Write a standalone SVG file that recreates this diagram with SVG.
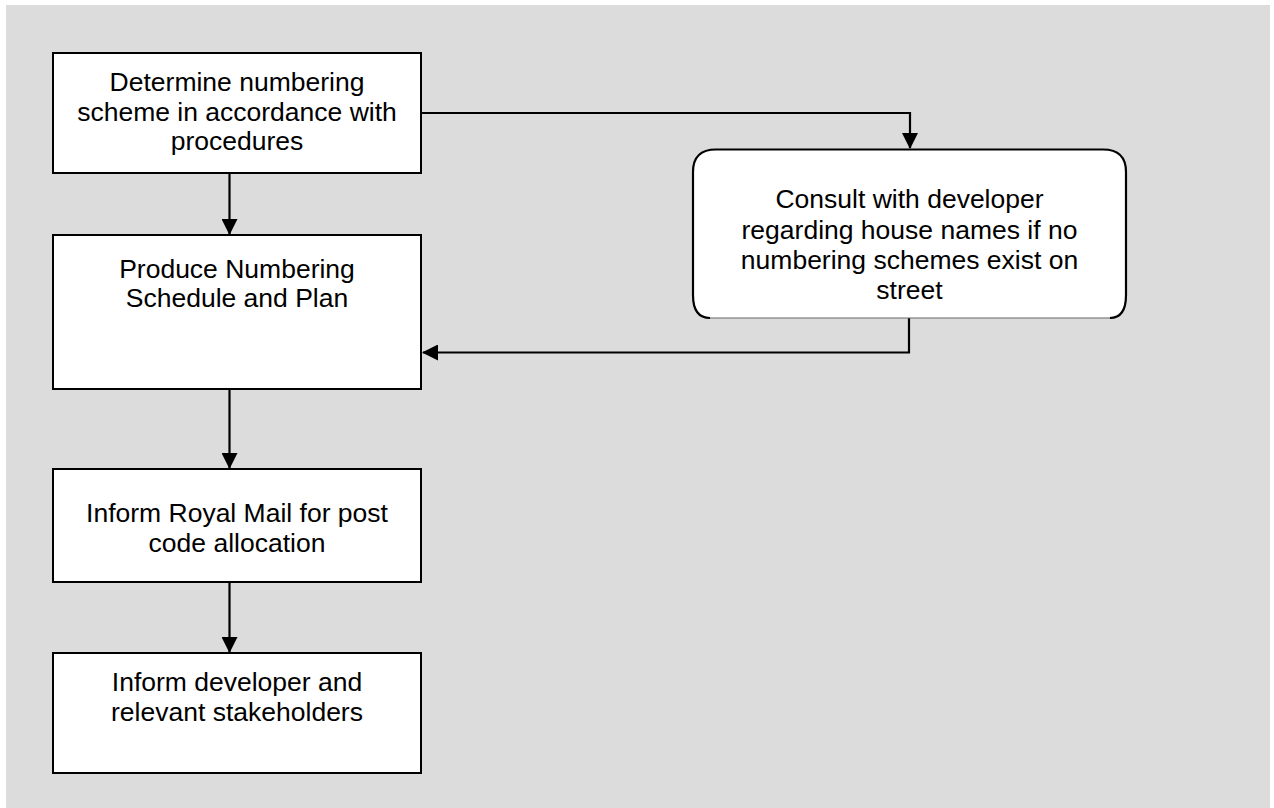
<svg xmlns="http://www.w3.org/2000/svg" width="1274" height="808" viewBox="0 0 1274 808">
<defs>
<style>
.box{fill:#fff;stroke:#000;stroke-width:2}
.t{font-family:"Liberation Sans",Arial,sans-serif;font-size:26.5px;fill:#000;text-anchor:middle}
.c{fill:none;stroke:#000;stroke-width:2.2}
</style>
<marker id="ah" viewBox="0 0 16 16" refX="15" refY="8" markerWidth="16" markerHeight="16" markerUnits="userSpaceOnUse" orient="auto">
<path d="M0,0 L16,8 L0,16 Z" fill="#000"/>
</marker>
</defs>
<rect x="0" y="0" width="1274" height="808" fill="#fff"/>
<rect x="6" y="5" width="1264" height="803" fill="#dcdcdc"/>
<g id="connectors">
<path class="c" d="M421,113 H910 V148" marker-end="url(#ah)"/>
<path class="c" d="M229.5,173 V234" marker-end="url(#ah)"/>
<path class="c" d="M909,318 V352.5 H423" marker-end="url(#ah)"/>
<path class="c" d="M229.5,389 V468" marker-end="url(#ah)"/>
<path class="c" d="M229.5,582 V652" marker-end="url(#ah)"/>
</g>
<g id="n1">
<rect class="box" x="53" y="53" width="368" height="120"/>
<text class="t" x="237" y="91">Determine numbering</text>
<text class="t" x="237" y="121">scheme in accordance with</text>
<text class="t" x="237" y="150">procedures</text>
</g>
<g id="n2">
<path d="M693,172 Q693,149.5 716,149.5 H1103 Q1126,149.5 1126,172 V295 Q1126,318 1103,318 H716 Q693,318 693,295 Z" fill="#fff"/>
<path d="M710,318 Q693,318 693,295 V172 Q693,149.5 716,149.5 H1103 Q1126,149.5 1126,172 V295 Q1126,318 1110,318" fill="none" stroke="#000" stroke-width="2.2"/>
<line x1="710" y1="318" x2="1110" y2="318" stroke="#666" stroke-width="1"/>
<text class="t" x="909.5" y="208">Consult with developer</text>
<text class="t" x="909.5" y="239">regarding house names if no</text>
<text class="t" x="909.5" y="269">numbering schemes exist on</text>
<text class="t" x="909.5" y="299">street</text>
</g>
<g id="n3">
<rect class="box" x="53" y="235" width="368" height="154"/>
<text class="t" x="237" y="278">Produce Numbering</text>
<text class="t" x="237" y="307">Schedule and Plan</text>
</g>
<g id="n4">
<rect class="box" x="53" y="469" width="368" height="113"/>
<text class="t" x="237" y="522">Inform Royal Mail for post</text>
<text class="t" x="237" y="552">code allocation</text>
</g>
<g id="n5">
<rect class="box" x="53" y="653" width="368" height="120"/>
<text class="t" x="237" y="691">Inform developer and</text>
<text class="t" x="237" y="721">relevant stakeholders</text>
</g>
</svg>
